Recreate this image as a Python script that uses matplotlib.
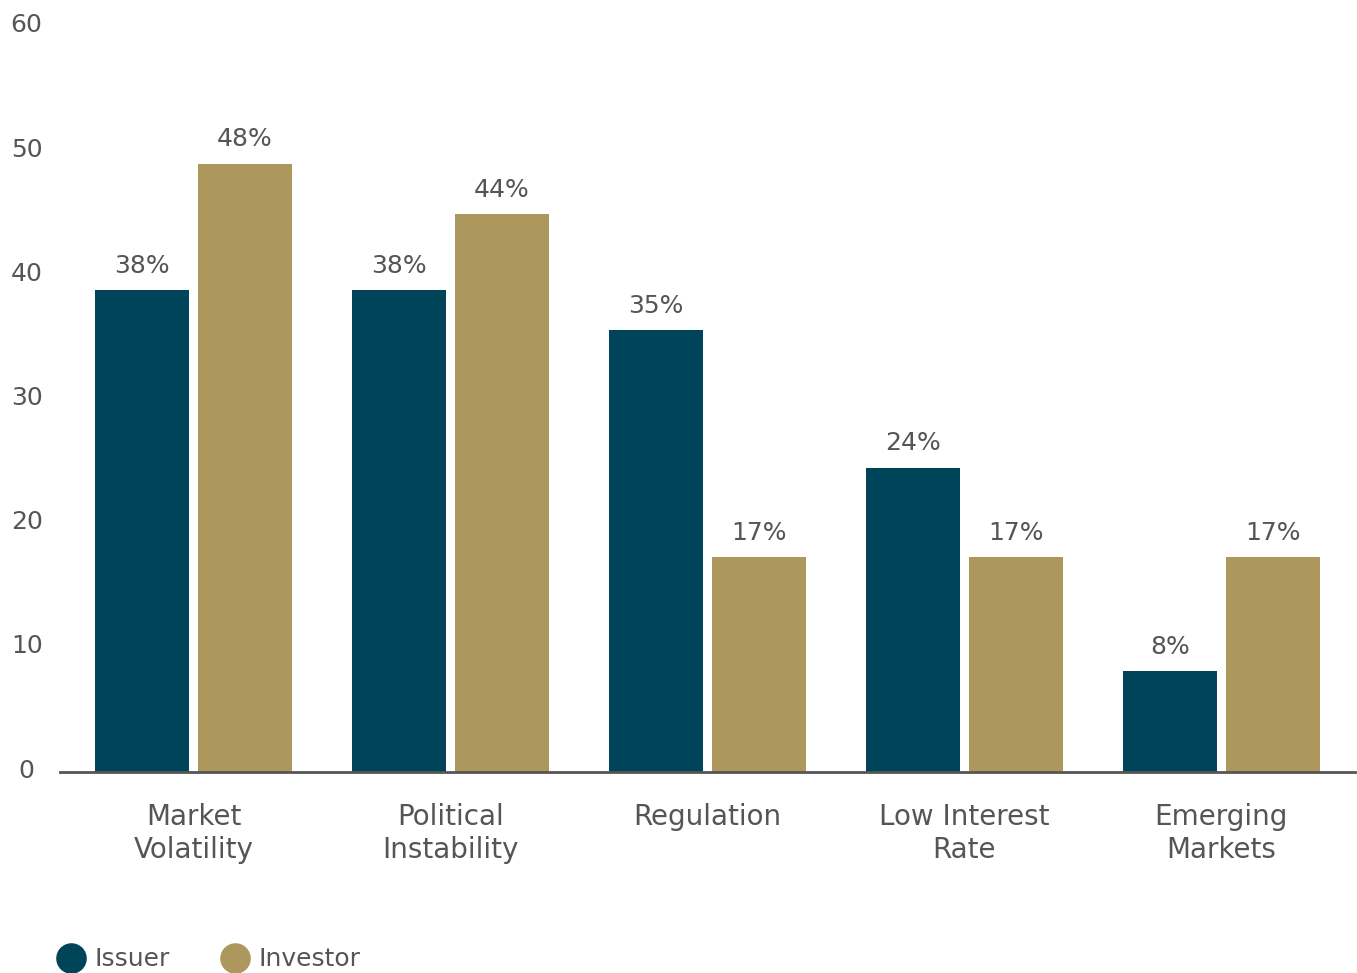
import matplotlib
matplotlib.use("Agg")
import matplotlib.pyplot as plt
from matplotlib.lines import Line2D
import matplotlib.transforms as mtransforms
import numpy as np

# data
categories = ["Market\nVolatility", "Political\nInstability", "Regulation",
              "Low Interest\nRate", "Emerging\nMarkets"]
issuer = [38.8, 38.8, 35.6, 24.5, 8.1]
investor = [49.0, 44.9, 17.3, 17.3, 17.3]
issuer_labels = ["38%", "38%", "35%", "24%", "8%"]
investor_labels = ["48%", "44%", "17%", "17%", "17%"]
yticks = [0, 10, 20, 30, 40, 50, 60]

teal = "#004459"
gold = "#ac985d"
grey = "#555555"

plt.rcParams['font.family'] = ['DejaVu Sans']

fig = plt.figure(figsize=(13.57, 9.73), dpi=100)
W, H = 1357, 973
ax = fig.add_axes([60 / W, 201 / H, (1355 - 60) / W, (772 - 27) / H])

x = np.arange(len(categories))
w = 0.366
off = 0.2
ax.bar(x - off, issuer, w, color=teal)
ax.bar(x + off, investor, w, color=gold)

for xi, v, t in zip(x, issuer, issuer_labels):
    ax.text(xi - off, v + 1.0, t, ha="center", va="bottom", fontsize=18, color=grey)
for xi, v, t in zip(x, investor, investor_labels):
    ax.text(xi + off, v + 1.0, t, ha="center", va="bottom", fontsize=18, color=grey)

ax.set_xlim(-0.52, 4.52)
ax.set_ylim(0, 60)
ax.set_yticks(yticks)
ax.set_yticklabels([str(t) for t in yticks], ha="center")
ax.tick_params(axis="y", length=0, pad=24, labelsize=18, labelcolor=grey)
# nudge y labels up a little
shift = mtransforms.ScaledTranslation(0, 4 / 100, fig.dpi_scale_trans)
for lab in ax.get_yticklabels():
    lab.set_transform(lab.get_transform() + shift)
ax.set_xticks(x)
ax.set_xticklabels(categories, linespacing=1.27)
ax.tick_params(axis="x", length=0, pad=22, labelsize=20, labelcolor=grey)

for s in ["top", "right", "left"]:
    ax.spines[s].set_visible(False)
ax.spines["bottom"].set_color(grey)
ax.spines["bottom"].set_linewidth(2)

handles = [Line2D([], [], marker="o", ls="", color=teal, markersize=21, label="Issuer"),
           Line2D([], [], marker="o", ls="", color=gold, markersize=21, label="Investor")]
fig.legend(handles=handles, loc="center left", bbox_to_anchor=(0.043, 0.014),
           ncol=2, frameon=False, fontsize=18, labelcolor=grey,
           handlelength=1.0, handletextpad=0.45, columnspacing=2.1, borderaxespad=0, borderpad=0)

fig.savefig("out.png", dpi=100)
